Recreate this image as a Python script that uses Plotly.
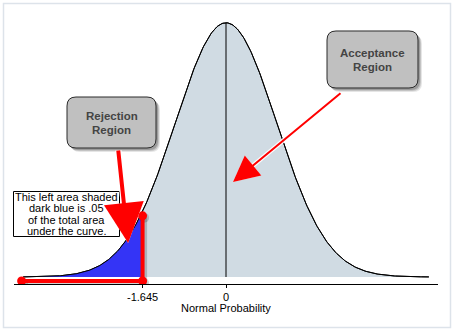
import numpy as np
import plotly.graph_objects as go

# Standard normal density drawn between these z limits
MEAN = 0.0
SD = 1.0
Z_MIN, Z_MAX = -4.0, 4.0
N_POINTS = 401

# One-tailed critical value (alpha = .05)
CRIT_Z = -1.645
TICK_VALUES = [-1.645, 0]
TICK_LABELS = ["-1.645", "0"]
AXIS_TITLE = "Normal Probability"

# Red corner marker outlining the rejection tail (data coordinates)
MARKER_X = [-4.03, -1.645, -1.645]
MARKER_Y = [-0.0063, -0.0063, 0.096]

# Callout text
NOTE_LINES = ["This left area shaded", "dark blue is .05", "of the total area", "under the curve."]
REJECT_LABEL = ["Rejection", "Region"]
ACCEPT_LABEL = ["Acceptance", "Region"]

# Arrow heads (data coordinates) and tail offsets (pixels)
REJECT_ARROW = dict(x=-1.93, y=0.0534, ax=-10, ay=-94)
ACCEPT_ARROW = dict(x=0.138, y=0.149, ax=109, ay=-90)

W, H = 455, 333
ML, MR, MT, MB = 14, 17, 10, 49
PW, PH = W - ML - MR, H - MT - MB

z = np.linspace(Z_MIN, Z_MAX, N_POINTS)
pdf = np.exp(-0.5 * ((z - MEAN) / SD) ** 2) / (SD * np.sqrt(2 * np.pi))
tail = z <= CRIT_Z
z_tail = np.append(z[tail], CRIT_Z)
pdf_tail = np.exp(-0.5 * ((z_tail - MEAN) / SD) ** 2) / (SD * np.sqrt(2 * np.pi))
peak = pdf.max()


def px(x):
    return (x - ML) / PW


def py(y):
    return (MT + PH - y) / PH


def rounded_path(x0, y0, x1, y1, r):
    pts = [
        ("M", (x0 + r, y0)), ("L", (x1 - r, y0)), ("Q", (x1, y0), (x1, y0 + r)),
        ("L", (x1, y1 - r)), ("Q", (x1, y1), (x1 - r, y1)), ("L", (x0 + r, y1)),
        ("Q", (x0, y1), (x0, y1 - r)), ("L", (x0, y0 + r)), ("Q", (x0, y0), (x0 + r, y0)),
    ]
    out = []
    for cmd, *ps in pts:
        out.append(cmd + " ".join(f"{px(a):.5f},{py(b):.5f}" for a, b in ps))
    return " ".join(out) + " Z"


fig = go.Figure()

# Acceptance area (whole curve) and rejection tail
fig.add_trace(go.Scatter(x=z, y=pdf, mode="lines", fill="tozeroy",
                         fillcolor="#d0dbe3", line=dict(color="black", width=1),
                         hoverinfo="skip", showlegend=False))
fig.add_trace(go.Scatter(x=z_tail, y=pdf_tail, mode="lines", fill="tozeroy",
                         fillcolor="#3434f6", line=dict(color="rgba(0,0,0,0)", width=0),
                         hoverinfo="skip", showlegend=False))
fig.add_trace(go.Scatter(x=z, y=pdf, mode="lines", line=dict(color="black", width=1),
                         hoverinfo="skip", showlegend=False))
# Mean line
fig.add_trace(go.Scatter(x=[MEAN, MEAN], y=[0, peak], mode="lines",
                         line=dict(color="black", width=1), hoverinfo="skip", showlegend=False))

# Red corner marker with a soft shadow
fig.add_trace(go.Scatter(x=[v + 0.03 for v in MARKER_X], y=[v - 0.003 for v in MARKER_Y],
                         mode="lines+markers", line=dict(color="rgba(0,0,0,0.18)", width=6),
                         marker=dict(size=10, color="rgba(0,0,0,0.18)"),
                         hoverinfo="skip", showlegend=False))
fig.add_trace(go.Scatter(x=MARKER_X, y=MARKER_Y, mode="lines+markers",
                         line=dict(color="#ff0000", width=4),
                         marker=dict(size=9, color="#ff0000"),
                         hoverinfo="skip", showlegend=False))

shapes = []
annotations = []

# Outer frame
shapes.append(dict(type="rect", xref="paper", yref="paper",
                   x0=px(3.5), x1=px(450.5), y0=py(327.5), y1=py(3.5),
                   line=dict(color="#dde3ea", width=1.5), fillcolor="rgba(0,0,0,0)", layer="below"))

# Note box
shapes.append(dict(type="rect", xref="paper", yref="paper",
                   x0=px(13.5), x1=px(119.5), y0=py(236.5), y1=py(191.5),
                   line=dict(color="black", width=1), fillcolor="white", layer="above"))
for i, line in enumerate(NOTE_LINES):
    annotations.append(dict(xref="paper", yref="paper", x=px(66.5), y=py(197 + i * 11.4),
                            text=line, showarrow=False, xanchor="center", yanchor="middle",
                            font=dict(family="Liberation Sans, Arial", size=11, color="black")))

# Callout boxes with drop shadows
for (x0, y0, x1, y1), label in [((67, 97, 156, 148), REJECT_LABEL),
                                ((327, 31, 418, 88), ACCEPT_LABEL)]:
    for off, alpha in [(4, 0.10), (3, 0.15), (2, 0.2)]:
        shapes.append(dict(type="path", xref="paper", yref="paper",
                           path=rounded_path(x0 + off, y0 + off, x1 + off, y1 + off, 9),
                           line=dict(width=0), fillcolor=f"rgba(0,0,0,{alpha})"))
    shapes.append(dict(type="path", xref="paper", yref="paper",
                       path=rounded_path(x0, y0, x1, y1, 9),
                       line=dict(color="#2a2a2a", width=1), fillcolor="#c0c0c0"))
    cx, cy = (x0 + x1) / 2, (y0 + y1) / 2
    for j, word in enumerate(label):
        annotations.append(dict(xref="paper", yref="paper", x=px(cx), y=py(cy - 7 + j * 14),
                                text=f"<b>{word}</b>", showarrow=False,
                                xanchor="center", yanchor="middle",
                                font=dict(family="Liberation Sans, Arial", size=11.5, color="#444444")))

# Arrows: white outline under the red arrow
for arr, width, size in [(REJECT_ARROW, 4, 2.0), (ACCEPT_ARROW, 2, 2.6)]:
    annotations.append(dict(x=arr["x"], y=arr["y"], ax=arr["ax"], ay=arr["ay"],
                            xref="x", yref="y", axref="pixel", ayref="pixel", text="",
                            showarrow=True, arrowhead=2, arrowsize=size * width / (width + 2.5),
                            arrowwidth=width + 2.5, arrowcolor="rgba(255,255,255,0.9)"))
    annotations.append(dict(x=arr["x"], y=arr["y"], ax=arr["ax"], ay=arr["ay"],
                            xref="x", yref="y", axref="pixel", ayref="pixel", text="",
                            showarrow=True, arrowhead=2, arrowsize=size,
                            arrowwidth=width, arrowcolor="#ff0000"))

# Axis title
annotations.append(dict(xref="paper", yref="paper", x=px(226), y=py(308), text=AXIS_TITLE,
                        showarrow=False, xanchor="center", yanchor="middle",
                        font=dict(family="Liberation Sans, Arial", size=11, color="black")))

fig.update_layout(
    width=W, height=H, margin=dict(l=ML, r=MR, t=MT, b=MB),
    paper_bgcolor="white", plot_bgcolor="white",
    shapes=shapes, annotations=annotations, showlegend=False,
    xaxis=dict(range=[-4.18, 4.18], showgrid=False, zeroline=False, showline=True,
               linecolor="black", linewidth=1, ticks="outside", ticklen=3,
               tickcolor="black", tickvals=TICK_VALUES, ticktext=TICK_LABELS,
               tickfont=dict(family="Liberation Sans, Arial", size=11, color="black"),
               fixedrange=True),
    yaxis=dict(range=[-0.011, 0.419], visible=False, fixedrange=True),
)

fig.write_html("out.html")
